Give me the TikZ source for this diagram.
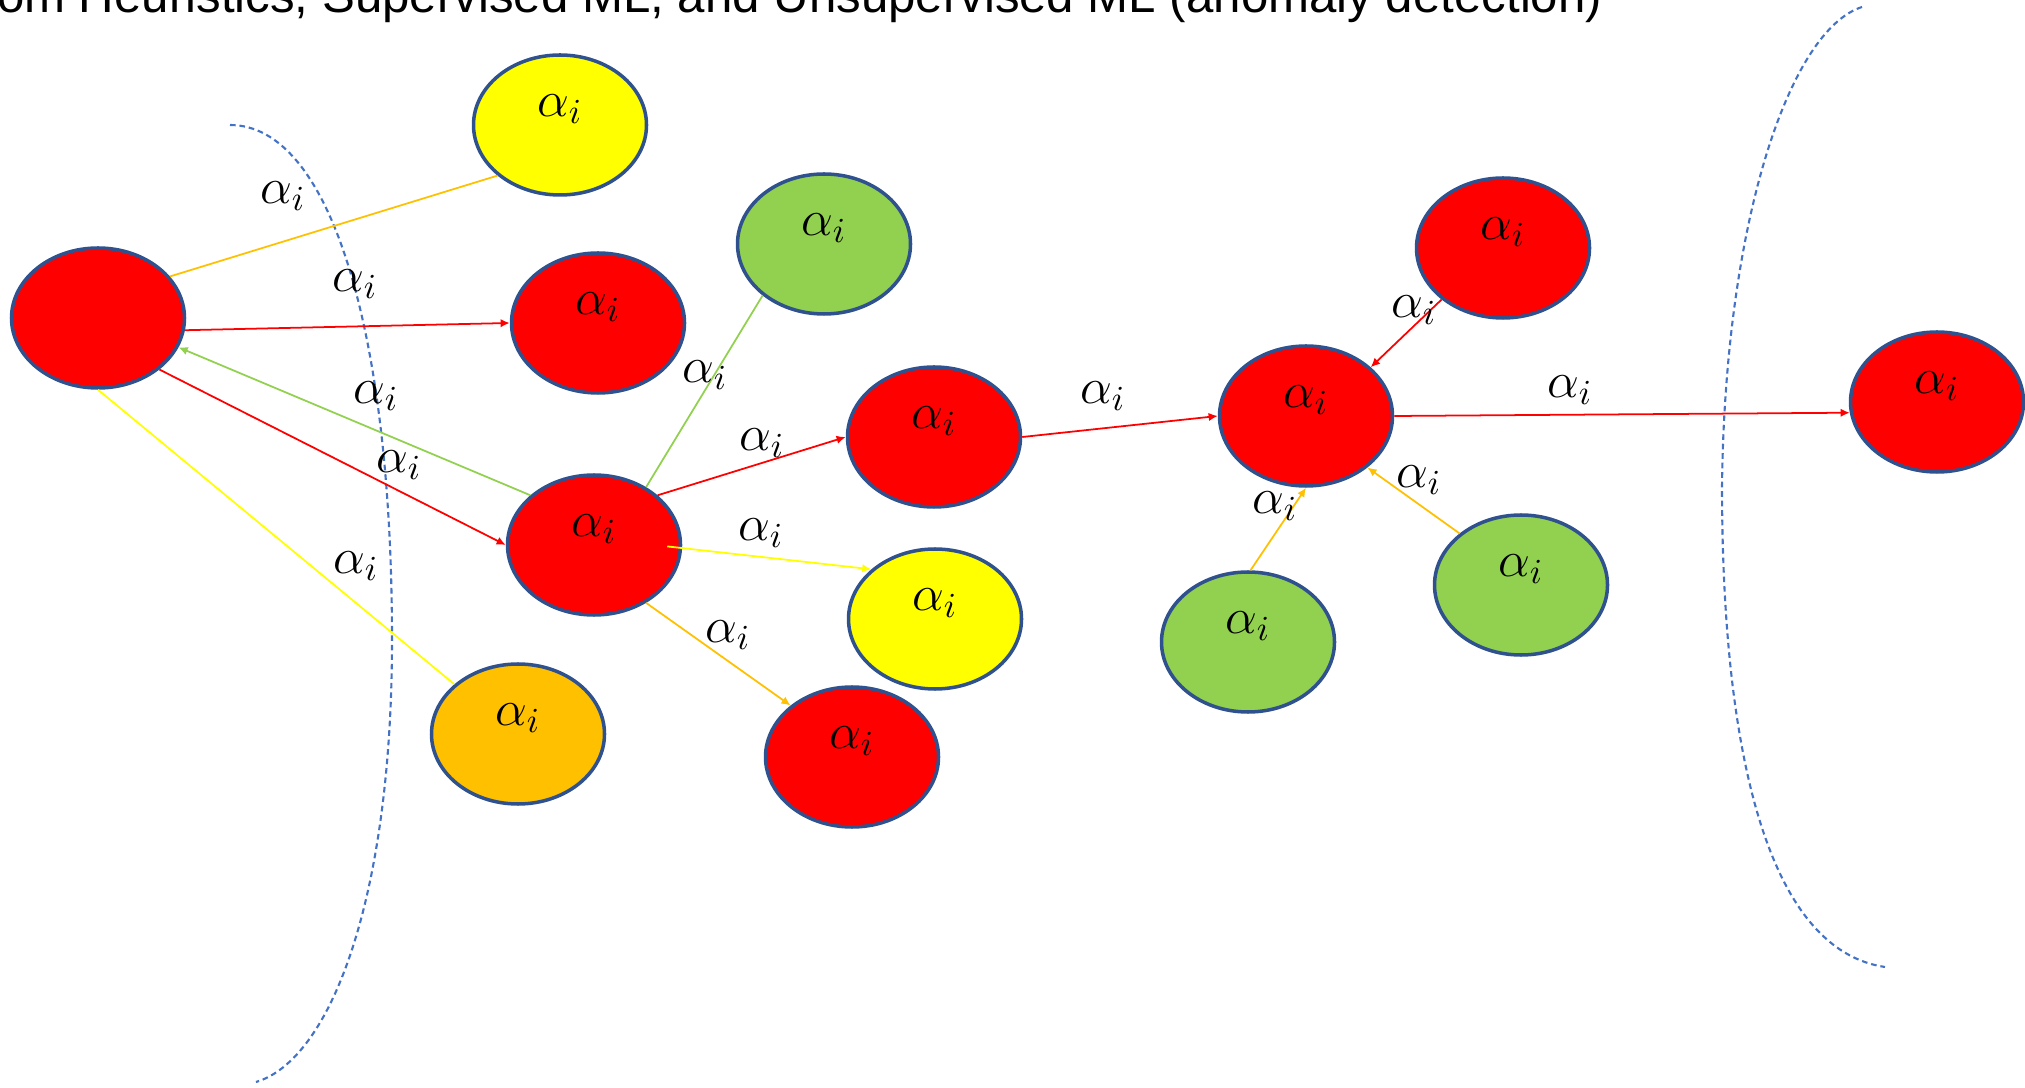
\documentclass[tikz,border=0pt]{standalone}
\usepackage{amsmath,amssymb}
\usepackage{fontspec}
\setmainfont{Liberation Sans}
\usetikzlibrary{shapes.geometric,arrows.meta}

\definecolor{rim}{HTML}{2F528F}
\definecolor{hot}{HTML}{FF0000}
\definecolor{sun}{HTML}{FFFF00}
\definecolor{leaf}{HTML}{92D050}
\definecolor{amber}{HTML}{FFC000}
\definecolor{bound}{HTML}{4472C4}

\begin{document}
\begin{tikzpicture}[x=0.1mm,y=-0.1mm,
				ball/.style={ellipse,draw=rim,line width=1pt,minimum width=1.73cm,minimum height=1.4cm,inner sep=0pt,text height=7pt,text depth=12pt,font=\fontsize{14}{17}\selectfont},
				lbl/.style={inner sep=0pt,font=\fontsize{14}{17}\selectfont},
				wire/.style={line width=0.5pt},
				tip/.style={wire,-{Latex[length=2.6pt,width=2.4pt]}},
				fence/.style={draw=bound,line width=0.6pt,dash pattern=on 1.6pt off 1.1pt}]
				\useasboundingbox (0,0) rectangle (2025,1088);
				\clip (0,0) rectangle (2025,1088);
				\node[anchor=base east,inner sep=0pt,font=\fontsize{14}{17}\selectfont] (title) at (1603,13) {From Heuristics, Supervised ML, and Unsupervised ML (anomaly detection)};
				\draw[fence] (230,125) .. controls (330,125) and (392,330) .. (392,640) .. controls (392,900) and (330,1060) .. (256,1082);
				\draw[fence] (1862,7) .. controls (1790,30) and (1725,220) .. (1722,486) .. controls (1722,760) and (1770,950) .. (1885,967);
				\node[ball,fill=hot] (src) at (98,318) {};
				\node[ball,fill=sun] (yel1) at (560,125) {$\alpha_i$};
				\node[ball,fill=hot] (red1) at (598,323) {$\alpha_i$};
				\node[ball,fill=leaf] (grn1) at (824,244) {$\alpha_i$};
				\node[ball,fill=hot] (hub) at (594,545) {$\alpha_i$};
				\node[ball,fill=hot] (red2) at (934,437) {$\alpha_i$};
				\node[ball,fill=sun] (yel2) at (935,619) {$\alpha_i$};
				\node[ball,fill=hot] (red3) at (852,757) {$\alpha_i$};
				\node[ball,fill=amber] (org1) at (518,734) {$\alpha_i$};
				\node[ball,fill=hot] (mid) at (1306,416) {$\alpha_i$};
				\node[ball,fill=hot] (red4) at (1503,248) {$\alpha_i$};
				\node[ball,fill=leaf] (grn2) at (1248,642) {$\alpha_i$};
				\node[ball,fill=leaf] (grn3) at (1521,585) {$\alpha_i$};
				\node[ball,fill=hot] (out) at (1937,402) {$\alpha_i$};
				\draw[wire,amber] (src.30) -- (yel1.-141);
				\draw[tip,hot] (src.-8) -- (red1.180);
				\draw[tip,leaf] (hub.142) -- (src.-20);
				\draw[tip,hot] (src.-40) -- (hub.180);
				\draw[wire,sun] (src.-90) -- (org1.142);
				\draw[wire,leaf] (hub.48) -- (grn1.-140);
				\draw[tip,hot] (hub.38) -- (red2.180);
				\draw[tip,sun,shorten <=-1.5mm] (hub.-2) -- (yel2.142);
				\draw[tip,amber] (hub.-48) -- (red3.140);
				\draw[tip,hot] (red2.0) -- (mid.180);
				\draw[tip,hot] (red4.-140) -- (mid.37);
				\draw[tip,hot] (mid.0) -- (out.-173);
				\draw[tip,amber] (grn2.88) -- (mid.-90);
				\draw[tip,amber] (grn3.140) -- (mid.-40);
				\node[lbl] (w1) at (283,196) {$\alpha_i$};
				\node[lbl] (w2) at (355,284) {$\alpha_i$};
				\node[lbl] (w3) at (376,396) {$\alpha_i$};
				\node[lbl] (w4) at (399,465) {$\alpha_i$};
				\node[lbl] (w5) at (356,566) {$\alpha_i$};
				\node[lbl] (w6) at (705,375) {$\alpha_i$};
				\node[lbl] (w7) at (762,443) {$\alpha_i$};
				\node[lbl] (w8) at (761,533) {$\alpha_i$};
				\node[lbl] (w9) at (728,635) {$\alpha_i$};
				\node[lbl] (w10) at (1103,396) {$\alpha_i$};
				\node[lbl] (w11) at (1414,310) {$\alpha_i$};
				\node[lbl] (w12) at (1570,390) {$\alpha_i$};
				\node[lbl] (w13) at (1275,506) {$\alpha_i$};
				\node[lbl] (w14) at (1419,480) {$\alpha_i$};
\end{tikzpicture}
\end{document}
